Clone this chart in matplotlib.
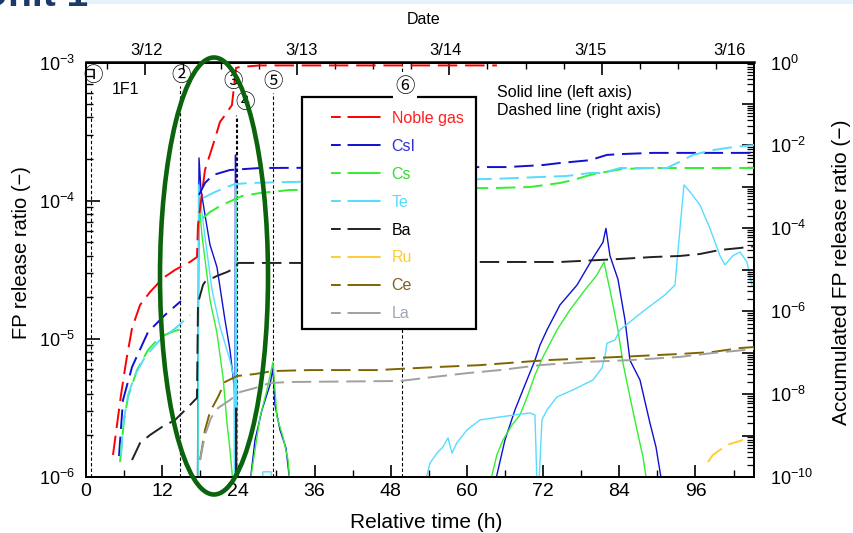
import numpy as np
import matplotlib
matplotlib.use('Agg')
import matplotlib.pyplot as plt
from matplotlib.lines import Line2D
from matplotlib.patches import Ellipse, Rectangle
from matplotlib.ticker import LogLocator, FixedLocator, FuncFormatter, NullFormatter
from matplotlib.transforms import blended_transform_factory

plt.rcParams['font.family'] = ['Liberation Sans', 'DejaVu Sans']
plt.rcParams['mathtext.fontset'] = 'custom'
plt.rcParams['mathtext.rm'] = 'Liberation Sans'
plt.rcParams['mathtext.it'] = 'Liberation Sans'
plt.rcParams['mathtext.bf'] = 'Liberation Sans'

NaN = np.nan

# ---------------- data: accumulated release (dashed, right axis) ----------------
noble_d_h = [4.25, 4.88, 5.51, 6.30, 7.25, 8.51, 10.08, 12.13, 14.02, 16.38, 17.48, 17.64, 18.74, 20.00,
             21.11, 21.58, 22.99, 23.63, 24.26, 27.41, 64.73]
noble_d_v = [3.4e-10, 1.8e-9, 9.5e-9, 5.9e-8, 3.9e-7, 1.41e-6, 2.9e-6, 6.3e-6, 9.9e-6, 1.54e-5, 2.03e-5,
             1.2e-4, 2.55e-3, 1.02e-2, 0.037, 0.046, 0.094, 0.74, 0.78, 0.85, 0.85]

csi_d_h = [5.20, 5.83, 7.25, 9.77, 12.44, 14.96, NaN, 17.80, 18.74, 20.00, 22.68, 27.41, 62.06, 66.31,
           71.98, 74.66, 79.38, 82.06, 84.58, 89.30, 105.3]
csi_d_v = [3.2e-10, 7.2e-9, 4.5e-8, 3.15e-7, 8.1e-7, 1.76e-6, NaN, 6.4e-4, 1.24e-3, 1.93e-3, 2.55e-3,
           2.85e-3, 3.0e-3, 3.0e-3, 3.36e-3, 3.76e-3, 4.4e-3, 5.9e-3, 6.2e-3, 6.6e-3, 6.6e-3]

cs_d_h = [5.36, 5.99, 6.62, 8.03, 9.77, 11.66, 13.55, 15.91, NaN, 18.43, 19.53, 21.11, 23.15, 24.57,
          27.41, 32.13, 64.73, 69.93, 74.66, 76.71, 79.38, 81.75, 84.58, 89.30, 105.3]
cs_d_v = [2.3e-10, 2.37e-9, 8.5e-9, 3.8e-8, 1.16e-7, 2.39e-7, 3.15e-7, 4.16e-7, NaN, 1.77e-4, 2.47e-4,
          3.45e-4, 4.8e-4, 6.0e-4, 7.1e-4, 8.4e-4, 9.4e-4, 9.9e-4, 1.24e-3, 1.46e-3, 1.93e-3, 2.28e-3,
          2.7e-3, 2.85e-3, 2.85e-3]

te_d_h = [5.51, 5.83, 6.62, 7.72, 9.29, 11.66, 14.33, 16.38, NaN, 18.43, 20.32, 22.21, 23.47, 25.83,
          32.13, 64.10, 71.51, 75.76, 79.38, 81.43, 84.11, 91.51, 94.03, 95.61, 98.75, 101.91, 105.3]
te_d_v = [3.4e-10, 1.8e-9, 9.5e-9, 2.9e-8, 7.9e-8, 2.02e-7, 4.16e-7, 8.1e-7, NaN, 5.4e-4, 7.5e-4,
          9.9e-4, 1.17e-3, 1.24e-3, 1.31e-3, 1.55e-3, 1.73e-3, 1.83e-3, 2.16e-3, 2.16e-3, 2.85e-3,
          2.85e-3, 4.4e-3, 5.9e-3, 7.7e-3, 9.1e-3, 1.02e-2]

ba_d_h = [7.25, 8.51, 10.08, 11.97, 14.02, 15.59, 17.48, 17.64, 18.43, 18.74, 20.63, 22.21, 23.47, 23.94,
          27.09, 35.28, 62.06, 74.66, 84.11, 89.30, 93.56, 96.71, 99.86, 103.01, 105.3]
ba_d_v = [2.57e-10, 6.6e-10, 1.03e-9, 1.61e-9, 2.37e-9, 4.1e-9, 8.1e-9, 1.58e-6, 4.3e-6, 5.1e-6, 7.1e-6,
          8.8e-6, 1.1e-5, 1.46e-5, 1.46e-5, 1.46e-5, 1.54e-5, 1.54e-5, 1.82e-5, 2.03e-5, 2.15e-5,
          2.4e-5, 3.0e-5, 3.35e-5, 3.7e-5]

ru_d_h = [97.97, 98.75, 99.86, 100.96, 101.91, 103.48]
ru_d_v = [2.3e-10, 3.4e-10, 4.5e-10, 5.9e-10, 6.6e-10, 7.8e-10]

ce_d_h = [17.96, 18.74, 19.53, 20.79, 21.89, 23.78, 26.62, 29.45, 35.28, 45.83, 55.28, 62.06, 72.61,
          84.11, 93.56, 98.75, 103.01, 105.3]
ce_d_v = [2.57e-10, 1.36e-9, 3.7e-9, 8.5e-9, 1.96e-8, 2.73e-8, 3.05e-8, 3.6e-8, 3.8e-8, 3.8e-8, 4.5e-8,
          5.0e-8, 6.6e-8, 7.9e-8, 9.3e-8, 1.04e-7, 1.29e-7, 1.37e-7]

la_d_h = [17.96, 18.74, 19.69, 20.79, 22.68, 24.26, 26.62, 28.98, 32.13, 49.45, 54.65, 60.01, 65.21,
          71.51, 77.81, 85.68, 93.56, 98.75, 105.3]
la_d_v = [2.57e-10, 1.03e-9, 2.65e-9, 4.6e-9, 7.2e-9, 1.12e-8, 1.40e-8, 1.85e-8, 1.96e-8, 2.07e-8,
          2.58e-8, 3.2e-8, 3.8e-8, 5.0e-8, 5.9e-8, 6.6e-8, 7.9e-8, 9.8e-8, 1.22e-7]

# ---------------- data: release ratio (solid, left axis) ----------------
csi_s_h = [17.56, 17.80, 18.11, 18.74, 19.53, 20.63, 21.89, 22.68, 23.31, 23.47, 23.55, 23.70, NaN,
           25.83, 26.62, 27.72, 28.98, 29.45, 29.77, 30.56, 31.50, 32.13, NaN,
           64.42, 65.99, 67.57, 69.14, 70.72, 71.51, 72.61, 74.66, 77.34, 79.86, 81.43, 81.90, 82.53,
           83.79, 84.90, 85.68, 87.26, 88.83, 89.78, 90.72]
csi_s_v = [9e-7, 2.04e-4, 1.2e-4, 7.9e-5, 4.8e-5, 3.3e-5, 1.37e-5, 8.3e-6, 4.64e-6, 3.61e-6, 2.14e-4,
           9e-7, NaN,
           9e-7, 1.85e-6, 3.06e-6, 4.64e-6, 6.15e-6, 3.32e-6, 2.19e-6, 1.62e-6, 9e-7, NaN,
           9e-7, 1.85e-6, 3.06e-6, 4.64e-6, 7.0e-6, 9.0e-6, 1.16e-5, 1.76e-5, 2.45e-5, 3.85e-5, 5.0e-5,
           6.3e-5, 4.0e-5, 2.7e-5, 1.37e-5, 7.0e-6, 5.04e-6, 2.46e-6, 1.65e-6, 9e-7]

cs_s_h = [17.64, 17.80, 18.27, 18.90, 19.53, 20.63, 21.58, 22.21, 22.68, 23.15, NaN,
          23.55, 23.63, 23.78, NaN,
          25.83, 27.41, 28.51, 29.45, 30.08, 31.03, 31.82, 32.13, NaN,
          63.63, 64.73, 65.68, 67.10, 68.36, 69.62, 70.72, 71.98, 74.19, 76.23, 78.60, 80.49, 81.59,
          82.53, 83.79, 84.58, 85.68, 86.79, 87.73, 88.36]
cs_s_v = [9e-7, 9.8e-5, 5.6e-5, 3.3e-5, 1.91e-5, 1.1e-5, 5.3e-6, 2.46e-6, 1.57e-6, 9e-7, NaN,
          9e-7, 1.2e-4, 9e-7, NaN,
          9e-7, 2.72e-6, 4.27e-6, 6.8e-6, 2.72e-6, 1.95e-6, 1.33e-6, 9e-7, NaN,
          9e-7, 1.45e-6, 1.85e-6, 2.38e-6, 2.81e-6, 3.93e-6, 5.48e-6, 7.4e-6, 1.16e-5, 1.62e-5,
          2.26e-5, 2.9e-5, 3.6e-5, 2.26e-5, 1.16e-5, 6.7e-6, 3.8e-6, 2.19e-6, 1.4e-6, 9e-7]

te_s_h = [17.64, 17.72, 18.11, 18.90, 19.85, 21.11, 22.68, 23.31, 23.39, NaN,
          23.47, 23.59, 23.75, NaN,
          27.72, 27.88, 29.14, 29.30, NaN,
          53.39, 54.18, 55.28, 56.23, 57.02, 57.65, 58.43, 60.01, 62.06, 65.21, 69.93, 70.72, 71.03,
          71.35, 71.82, 72.61, 74.19, 76.71, 79.86, 81.27, 81.75, 82.06, 83.32, 84.11, 88.05, 91.20,
          92.77, 93.40, 94.19, 95.13, 96.71, 98.28, 99.86, 100.65, 101.91, 103.01, 104.11, 104.90]
te_s_v = [9e-7, 1.3e-4, 9.3e-5, 4.8e-5, 2.26e-5, 1.22e-5, 7.0e-6, 5.21e-6, 9e-7, NaN,
          9e-7, 1.34e-4, 9e-7, NaN,
          9e-7, 1.09e-6, 1.09e-6, 9e-7, NaN,
          9e-7, 1.26e-6, 1.49e-6, 1.65e-6, 1.92e-6, 1.49e-6, 1.77e-6, 2.19e-6, 2.59e-6, 2.72e-6,
          2.91e-6, 2.81e-6, 9e-7, 9e-7, 2.59e-6, 3.06e-6, 3.8e-6, 4.27e-6, 5.04e-6, 6.15e-6, 7.4e-6,
          9.3e-6, 9.8e-6, 1.16e-5, 1.62e-5, 2.08e-5, 2.45e-5, 5.2e-5, 1.3e-4, 1.16e-4, 9.3e-5,
          6.3e-5, 4.0e-5, 3.43e-5, 4.0e-5, 4.25e-5, 3.6e-5, 2.45e-5]

ba_s_h = [23.60, 23.63, 23.66]
ba_s_v = [9e-7, 3.16e-6, 9e-7]

# ---------------- labels / categories ----------------
species = ['Noble gas', 'CsI', 'Cs', 'Te', 'Ba', 'Ru', 'Ce', 'La']
colors = ['#ff0000', '#1010d0', '#33ee33', '#55ddff', '#222222', '#ffcc33', '#7f6500', '#a0a0a0']
label_colors = ['#ff2020', '#3030d0', '#33dd33', '#55ddff', '#000000', '#ffcc33', '#806020', '#a0a8b8']
event_h = [0.79, 14.80, 23.55, 23.83, 29.41, 49.82]
event_labels = ['①', '②', '③', '④', '⑤', '⑥']
date_ticks = [9.23, 33.23, 57.23, 81.23, 105.23]
date_labels = ['3/12', '3/13', '3/14', '3/15', '3/16']
x_ticks = [0, 12, 24, 36, 48, 60, 72, 84, 96]

# ---------------- figure ----------------
W, H = 854, 533
fig = plt.figure(figsize=(W / 100, H / 100), dpi=100)
ax = fig.add_axes([86 / W, 1 - 477 / H, 668.5 / W, 414.5 / H])
ax2 = ax.twinx()

ax.set_xlim(0, 105.3)
ax.set_yscale('log')
ax.set_ylim(1e-6, 1e-3)
ax2.set_yscale('log')
ax2.set_ylim(1e-10, 1)

dash = (0, (10, 4))
lw_d = 1.4
lw_s = 1.0

dashed_series = [(noble_d_h, noble_d_v), (csi_d_h, csi_d_v), (cs_d_h, cs_d_v), (te_d_h, te_d_v),
                 (ba_d_h, ba_d_v), (ru_d_h, ru_d_v), (ce_d_h, ce_d_v), (la_d_h, la_d_v)]
for (hh, vv), c in zip(dashed_series, colors):
    ax2.plot(hh, vv, color=c, lw=lw_d, linestyle=dash, zorder=3)

solid_series = [(csi_s_h, csi_s_v, colors[1]), (cs_s_h, cs_s_v, colors[2]),
                (te_s_h, te_s_v, colors[3]), (ba_s_h, ba_s_v, colors[4])]
for hh, vv, c in solid_series:
    ax.plot(hh, vv, color=c, lw=lw_s, zorder=3)

# event lines
event_tops = [0.938, 0.943, 0.873, 0.8685, 0.926, 1.0]
for xe, top in zip(event_h, event_tops):
    ax.axvline(xe, ymin=0, ymax=top, color='black', lw=0.8, linestyle=(0, (3, 2)), zorder=2)

# event labels
tr = blended_transform_factory(ax2.transData, ax2.transAxes)
ev_lab_pos = [(1.10, 0.968), (14.96, 0.968), (23.2, 0.953), (25.1, 0.903), (29.45, 0.953), (50.24, 0.941)]
for (xl, yl), lab in zip(ev_lab_pos, event_labels):
    t = ax2.text(xl, yl, lab, transform=tr, ha='center', va='center', fontsize=14,
                 family=['Noto Sans CJK JP', 'DejaVu Sans'], zorder=8)
    if lab == '⑥':
        t.set_bbox(dict(facecolor='white', edgecolor='none', pad=1.5))

# axes styling
for sp in ax.spines.values():
    sp.set_linewidth(1.4)
for sp in ax2.spines.values():
    sp.set_linewidth(1.4)

ax.set_xticks(x_ticks)
ax.xaxis.set_minor_locator(FixedLocator(np.arange(0, 106, 6)))
ax.tick_params(axis='x', which='major', direction='in', length=9, width=1.2, labelsize=14, pad=4)
ax.tick_params(axis='x', which='minor', direction='in', length=5, width=1.0)

fmt_left = FuncFormatter(lambda v, p: r'$10^{%d}$' % int(round(np.log10(v))))
def fmt_r(v, p):
    e = int(round(np.log10(v)))
    return r'$10^{%d}$' % e if e % 2 == 0 else ''

ax.yaxis.set_major_locator(LogLocator(base=10, numticks=20))
ax.yaxis.set_minor_locator(LogLocator(base=10, subs=np.arange(2, 10), numticks=20))
ax.yaxis.set_major_formatter(fmt_left)
ax.yaxis.set_minor_formatter(NullFormatter())
ax.tick_params(axis='y', which='major', direction='in', length=10, width=1.2, labelsize=13, pad=8)
ax.tick_params(axis='y', which='minor', direction='in', length=5, width=1.0)

ax2.yaxis.set_major_locator(LogLocator(base=10, numticks=20))
ax2.yaxis.set_minor_locator(LogLocator(base=10, subs=np.arange(2, 10), numticks=20))
ax2.yaxis.set_major_formatter(FuncFormatter(fmt_r))
ax2.yaxis.set_minor_formatter(NullFormatter())
ax2.tick_params(axis='y', which='major', direction='in', length=9, width=1.2, labelsize=13, pad=11)
ax2.tick_params(axis='y', which='minor', direction='in', length=5, width=0.9)

sec = ax.secondary_xaxis('top')
sec.set_xticks(date_ticks)
sec.set_xticklabels([])
sec.xaxis.set_minor_locator(FixedLocator(np.arange(3.23, 106, 6)))
sec.tick_params(axis='x', which='major', direction='in', length=9, width=1.2)
sec.tick_params(axis='x', which='minor', direction='in', length=5, width=1.0)
sec.spines['top'].set_linewidth(1.8)

trd = blended_transform_factory(ax.transData, ax.transAxes)
date_label_x = [9.6, 33.9, 56.7, 79.4, 101.3]
for xl, lab in zip(date_label_x, date_labels):
    ax.text(xl, 1.030, lab, transform=trd, ha='center', va='center', fontsize=12)

# axis labels
fig.text(426 / W, 1 - 522 / H, 'Relative time (h)', ha='center', va='center', fontsize=15)
fig.text(22 / W, 1 - 253 / H, 'FP release ratio (\u2212)', ha='center', va='center', rotation=90, fontsize=14.5)
fig.text(842 / W, 1 - 272 / H, 'Accumulated FP release ratio (\u2212)', ha='center', va='center',
         rotation=90, fontsize=15)
fig.text(424 / W, 1 - 20 / H, 'Date', ha='center', va='center', fontsize=11.5)
fig.text(126 / W, 1 - 89 / H, '1F1', ha='center', va='center', fontsize=11.5)
fig.text(497 / W, 1 - 93 / H, 'Solid line (left axis)', ha='left', va='center', fontsize=11.5)
fig.text(497 / W, 1 - 111 / H, 'Dashed line (right axis)', ha='left', va='center', fontsize=11.5)

# legend frame + legend
ax2.add_patch(Rectangle((0.323, 0.357), 0.260, 0.5605, transform=ax2.transAxes, facecolor='white',
                        edgecolor='black', lw=1.6, zorder=6))
handles = [Line2D([], [], color=c, lw=1.4, linestyle=(0, (5.0, 3.5, 17.0, 5.0))) for c in colors]
leg = ax2.legend(handles, species, loc='upper left', bbox_to_anchor=(0.3665, 0.8835),
                 bbox_transform=ax2.transAxes, frameon=False, fontsize=11.5, handlelength=3.1,
                 handletextpad=0.7, labelspacing=0.81, borderpad=0, borderaxespad=0,
                 labelcolor=label_colors)
leg.set_zorder(7)

# green highlight ellipse
fig.add_artist(Ellipse((214 / W, 1 - 276 / H), 108 / W, 437 / H, transform=fig.transFigure,
                       fill=False, edgecolor='#0b640b', lw=3.3, zorder=10))

# header fragment
fig.add_artist(Rectangle((85 / W, 1 - 4 / H), 1, 4 / H, transform=fig.transFigure,
                         facecolor='#e6f2fb', edgecolor='none', zorder=0))
fig.text(88 / W, 1 - 6 / H, 'Unit 1', ha='right', va='baseline', fontsize=28, fontweight='bold',
         color='#1b3a6b')

fig.savefig('out.png', dpi=100)
